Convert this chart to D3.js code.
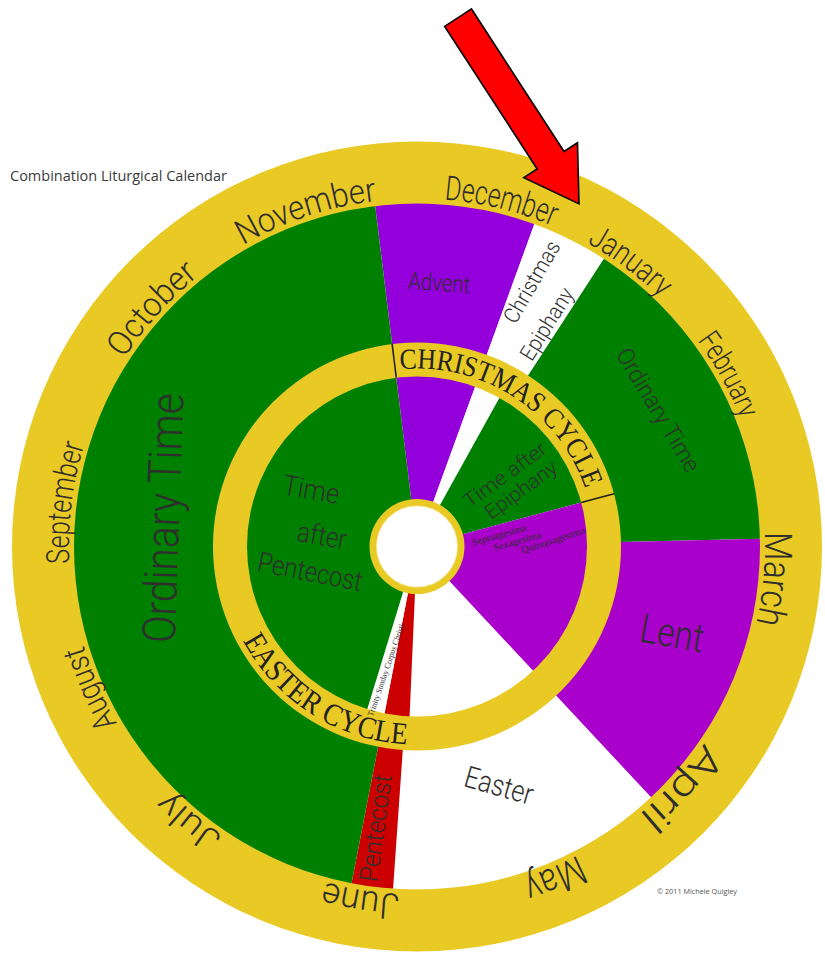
<!DOCTYPE html>
<html><head><meta charset="utf-8">
<script src="https://cdn.jsdelivr.net/npm/d3@7"></script>
<style>
html,body{margin:0;padding:0;background:#fff;}
svg{display:block;}
</style></head>
<body>
<svg id="chart" width="825" height="956"></svg>
<script>
// ================= DATA (angles in degrees, clockwise from 12 o'clock) =================
// Outer band (between the cycle ring and the month ring)
const outerSeasons = ["Advent", "Christmas / Epiphany", "Ordinary Time", "Lent", "Easter", "Pentecost", "Ordinary Time"];
const outerStart   = [-7, 20, 33, 88.7, 137, 184, 191];
const outerEnd     = [20, 33, 88.7, 137, 184, 191, 353];
const outerKind    = ["advent", "white", "green", "lent", "white", "red", "green"];

// Inner disc (inside the cycle ring)
const innerSeasons = ["Advent", "Christmas", "Time after Epiphany", "Septuagesima / Lent", "Easter", "Pentecost", "Trinity / Corpus Christi", "Time after Pentecost"];
const innerStart   = [-7, 20, 29, 75, 137, 182.5, 191, 197];
const innerEnd     = [20, 29, 75, 137, 182.5, 191, 197, 353];
const innerKind    = ["advent", "white", "green", "lent", "white", "red", "white", "green"];

// Month names on the outer gold ring (centre angle of each label)
const months     = ["December", "January", "February", "March", "April", "May", "June", "July", "August", "September", "October", "November"];
const monthAngle = [13.7, 36.8, 61.1, 95.2, 132.4, 157.4, 189.1, 219.6, 246.5, 277.1, 311.9, 341.7];

// Cycle ring
const cycleNames    = ["CHRISTMAS CYCLE", "EASTER CYCLE"];
const cycleFrom     = [-5.5, 241.6];
const cycleTo       = [71, 183];
const cycleDividers = [-7, 75];

// ================= LAYOUT / STYLE =================
const cx = 417, cy = 546.5;
const R = {hubWhite: 40, hubGold: 47.5, inner: 170, cycleOuter: 204, monthInner: 343, outer: 405,
           monthBase: 348, xmasBase: 178, easterBase: 198};
const color = {advent: "#9400DC", lent: "#AA00CC", green: "#008000", white: "#FFFFFF",
               red: "#CC0000", gold: "#E9C924", text: "#2e2e2e"};
const sansFont = "'Liberation Sans Narrow', Roboto, 'DejaVu Sans', sans-serif";
const serifFont = "'Liberation Serif', 'DejaVu Serif', serif";

const monthStyle = {
  December: {size: 34, len: 112}, January: {size: 32, len: 92}, February: {size: 30, len: 90},
  March: {size: 38, len: 92}, April: {size: 38, len: 98}, May: {size: 40, len: 60},
  June: {size: 36, len: 76}, July: {size: 34, len: 70}, August: {size: 32, len: 85},
  September: {size: 32, len: 120}, October: {size: 34, len: 112}, November: {size: 34, len: 142}
};

// straight labels: polar anchor (a = angle, r = radius), rotation, size, length
const labels = [
  {t: "Advent",        a: 4.8,   r: 264.4, rot: 4,   size: 24, len: 62,  font: sansFont},
  {t: "Christmas",     a: 23.5,  r: 288.4, rot: -60, size: 22, len: 91,  font: sansFont},
  {t: "Epiphany",      a: 30.3,  r: 257.7, rot: -58, size: 22, len: 81,  font: sansFont},
  {t: "Ordinary Time", a: 60.5,  r: 277,   rot: 59,  size: 24, len: 140, font: sansFont},
  {t: "Lent",          a: 108.9, r: 269.6, rot: 10,  size: 40, len: 64,  font: sansFont},
  {t: "Easter",        a: 161.1, r: 253,   rot: 16,  size: 30, len: 70,  font: sansFont},
  {t: "Pentecost",     a: 188.3, r: 284.5, rot: -82, size: 26, len: 108, font: sansFont},
  {t: "Ordinary Time", a: 276.4, r: 254.6, rot: -88, size: 46, len: 250, font: sansFont},
  {t: "Time",          a: 298.1, r: 120.1, rot: 10,  size: 28, len: 57,  font: sansFont},
  {t: "after",         a: 276.3, r: 95.6,  rot: 10,  size: 28, len: 50,  font: sansFont},
  {t: "Pentecost",     a: 256.6, r: 110,   rot: 11,  size: 28, len: 106, font: sansFont},
  {t: "Time after",    a: 50.9,  r: 113.4, rot: -36, size: 20, len: 97,  font: sansFont},
  {t: "Epiphany",      a: 61.5,  r: 118.4, rot: -36, size: 20, len: 84,  font: sansFont},
  {t: "Septuagesima",  a: 82,    r: 82.8,  rot: -16, size: 10, len: 56,  font: serifFont},
  {t: "Sexagesima",    a: 86.9,  r: 100.2, rot: -16, size: 10, len: 49,  font: serifFont},
  {t: "Quinquagesima", a: 87.3,  r: 136.2, rot: -18, size: 10, len: 67,  font: serifFont},
  {t: "Trinity Sunday Corpus Christi", a: 194.1, r: 127.3, rot: -71, size: 8.5, len: 97, font: serifFont}
];

// ================= DRAW =================
const svg = d3.select("#chart");
const ang = d3.scaleLinear().domain([0, 360]).range([0, 2 * Math.PI]);
const arc = d3.arc();
const polar = (a, r) => [r * Math.sin(ang(a)), -r * Math.cos(ang(a))];
const defs = svg.append("defs");
const g = svg.append("g").attr("transform", `translate(${cx},${cy})`);

function arcPath(r, c0, c1, ccw) {
  const p = d3.path();
  const a0 = ang(c0) - Math.PI / 2, a1 = ang(c1) - Math.PI / 2;
  p.moveTo(r * Math.cos(a0), r * Math.sin(a0));
  p.arc(0, 0, r, a0, a1, ccw);
  return p.toString();
}

// outer band wedges
g.selectAll("path.outer").data(d3.range(outerSeasons.length)).join("path")
  .attr("class", "outer")
  .attr("d", i => arc({innerRadius: R.cycleOuter - 1, outerRadius: R.monthInner + 1,
                       startAngle: ang(outerStart[i]), endAngle: ang(outerEnd[i])}))
  .attr("fill", i => color[outerKind[i]]);

// inner wedges
g.selectAll("path.inner").data(d3.range(innerSeasons.length)).join("path")
  .attr("class", "inner")
  .attr("d", i => arc({innerRadius: 0, outerRadius: R.inner + 1,
                       startAngle: ang(innerStart[i]), endAngle: ang(innerEnd[i])}))
  .attr("fill", i => color[innerKind[i]]);

// gold rings
const ring = (r0, r1) => arc({innerRadius: r0, outerRadius: r1, startAngle: 0, endAngle: 2 * Math.PI});
g.append("path").attr("d", ring(R.monthInner, R.outer)).attr("fill", color.gold);
g.append("path").attr("d", ring(R.inner, R.cycleOuter)).attr("fill", color.gold);

// cycle dividers
g.selectAll("line.div").data(cycleDividers).join("line")
  .attr("x1", d => polar(d, R.inner)[0]).attr("y1", d => polar(d, R.inner)[1])
  .attr("x2", d => polar(d, R.cycleOuter)[0]).attr("y2", d => polar(d, R.cycleOuter)[1])
  .attr("stroke", "#222").attr("stroke-width", 1.6);

// hub
g.append("circle").attr("r", R.hubGold).attr("fill", color.gold);
g.append("circle").attr("r", R.hubWhite + 1).attr("fill", "#F6EBA8");
g.append("circle").attr("r", R.hubWhite).attr("fill", "#fff");

// month labels on arcs
months.forEach((m, i) => {
  defs.append("path").attr("id", "mp" + i)
    .attr("d", arcPath(R.monthBase, monthAngle[i] - 60, monthAngle[i] + 60, false));
  const st = monthStyle[m];
  g.append("text")
    .attr("font-family", sansFont).attr("font-weight", 300).attr("font-size", st.size).attr("fill", color.text)
    .append("textPath").attr("href", "#mp" + i)
    .attr("startOffset", "50%").attr("text-anchor", "middle")
    .attr("textLength", st.len).attr("lengthAdjust", "spacingAndGlyphs")
    .text(m);
});

// cycle names
cycleNames.forEach((c, i) => {
  const ccw = cycleTo[i] < cycleFrom[i];
  const rb = ccw ? R.easterBase : R.xmasBase;
  defs.append("path").attr("id", "cp" + i).attr("d", arcPath(rb, cycleFrom[i], cycleTo[i], ccw));
  g.append("text")
    .attr("font-family", serifFont).attr("font-size", ccw ? 31 : 29).attr("fill", "#222")
    .append("textPath").attr("href", "#cp" + i)
    .attr("startOffset", 0)
    .attr("textLength", rb * Math.abs(ang(cycleTo[i]) - ang(cycleFrom[i])))
    .attr("lengthAdjust", "spacingAndGlyphs")
    .text(c);
});

// straight labels
g.selectAll("text.lab").data(labels).join("text")
  .attr("class", "lab")
  .attr("transform", d => { const p = polar(d.a, d.r); return `translate(${p[0]},${p[1]}) rotate(${d.rot})`; })
  .attr("text-anchor", "middle").attr("dy", "0.33em")
  .attr("font-family", d => d.font).attr("font-weight", d => d.font === sansFont ? 300 : 400)
  .attr("font-size", d => d.size).attr("fill", color.text)
  .attr("textLength", d => d.len).attr("lengthAdjust", "spacingAndGlyphs")
  .text(d => d.t);

// red arrow pointing at the start of the liturgical year
(function () {
  const tip = polar(25.3, 379);
  const dir = 57 * Math.PI / 180, L = 222, headL = 52, headW = 64, shaftW = 32;
  const u = [Math.cos(dir), Math.sin(dir)], n = [-Math.sin(dir), Math.cos(dir)];
  const at = (s, w) => [tip[0] - u[0] * s + n[0] * w, tip[1] - u[1] * s + n[1] * w];
  const pts = [at(0, 0), at(headL, headW / 2), at(headL, shaftW / 2), at(L, shaftW / 2),
               at(L, -shaftW / 2), at(headL, -shaftW / 2), at(headL, -headW / 2)];
  g.append("path").attr("d", d3.line()(pts) + "Z")
    .attr("fill", "#FF0000").attr("stroke", "#000").attr("stroke-width", 1.6).attr("stroke-linejoin", "miter");
})();

// captions
svg.append("text").attr("x", 10).attr("y", 181)
  .attr("font-family", "'Open Sans', 'Noto Sans', sans-serif").attr("font-size", 14).attr("fill", "#3a3a3a")
  .attr("textLength", 217).attr("lengthAdjust", "spacingAndGlyphs")
  .text("Combination Liturgical Calendar");
svg.append("text").attr("x", 657).attr("y", 894)
  .attr("font-family", "'Open Sans', 'Noto Sans', sans-serif").attr("font-size", 8).attr("fill", "#555")
  .attr("textLength", 80).attr("lengthAdjust", "spacingAndGlyphs")
  .text("© 2011 Michele Quigley");
</script>
</body></html>
